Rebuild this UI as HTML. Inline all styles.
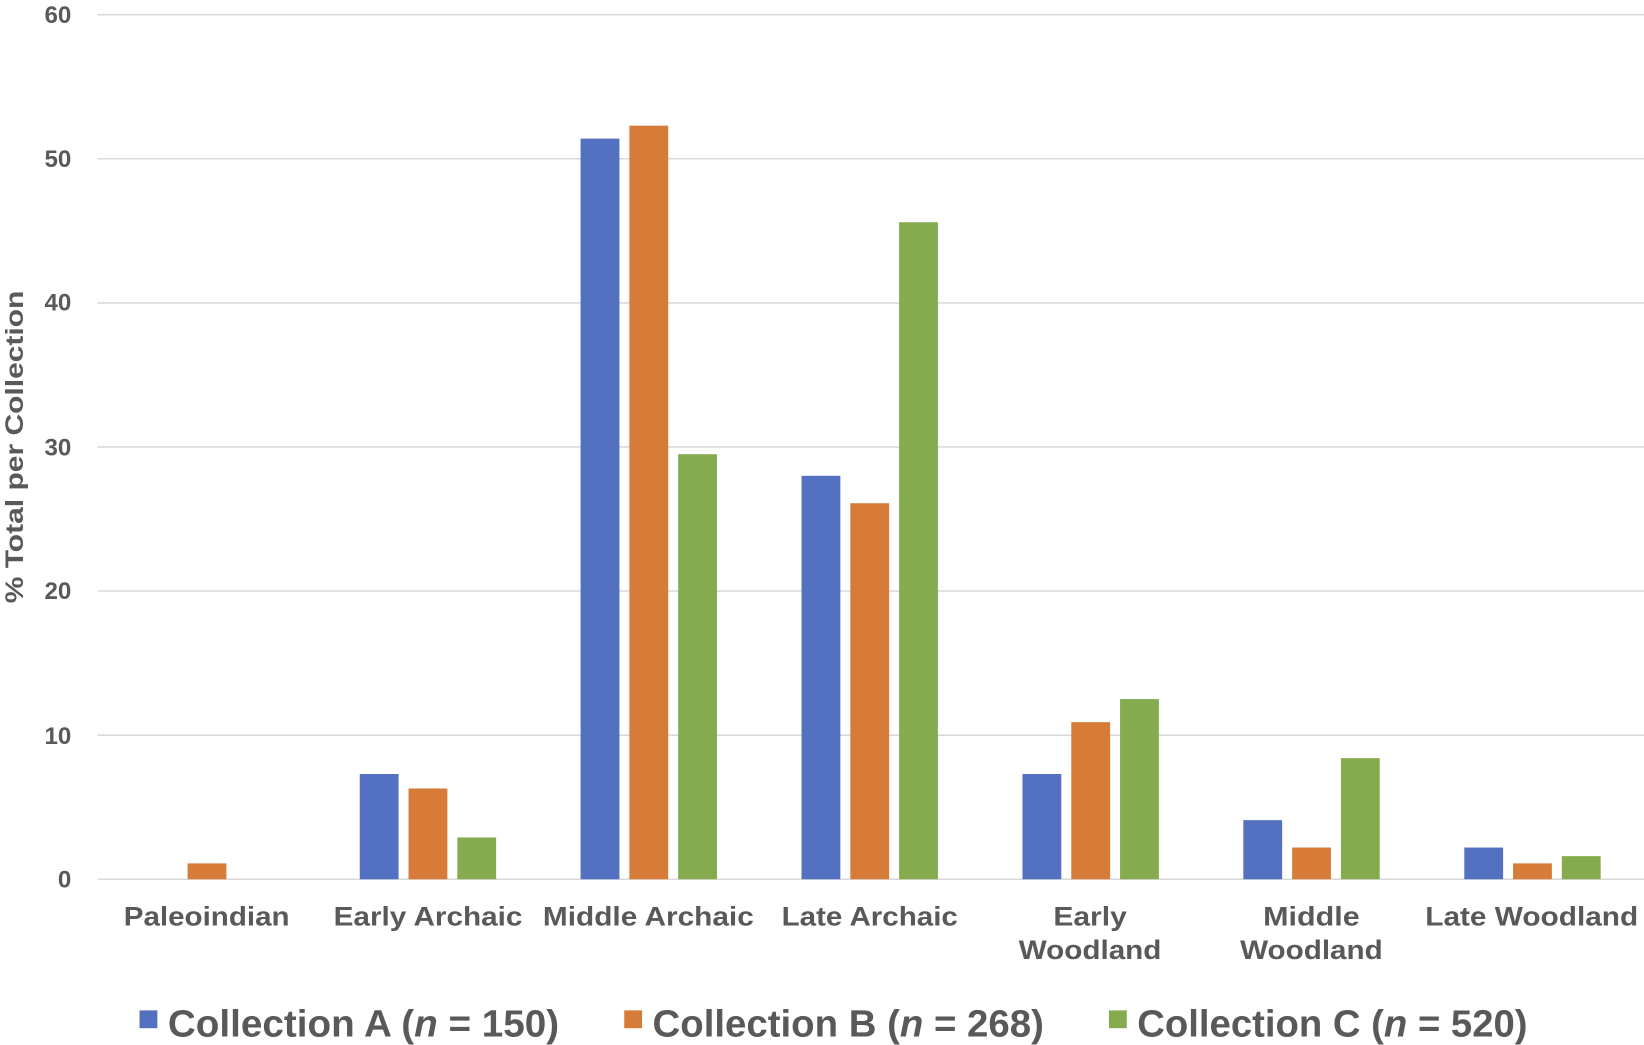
<!DOCTYPE html>
<html><head><style>html,body{margin:0;padding:0;background:#fff;}svg{display:block}</style></head>
<body>
<svg width="1644" height="1045" viewBox="0 0 1567 996" preserveAspectRatio="none" xmlns="http://www.w3.org/2000/svg" font-family="Liberation Sans, sans-serif" font-weight="bold" fill="#595959">
<g stroke="#d9d9d9" stroke-width="1.5">
<line x1="93" x2="1567" y1="14" y2="14"/><line x1="93" x2="1567" y1="151.3" y2="151.3"/><line x1="93" x2="1567" y1="288.7" y2="288.7"/><line x1="93" x2="1567" y1="426" y2="426"/><line x1="93" x2="1567" y1="563.3" y2="563.3"/><line x1="93" x2="1567" y1="700.7" y2="700.7"/><line x1="93" x2="1567" y1="838" y2="838"/>
</g>
<g font-size="23" text-anchor="end">
<text x="68" y="22">60</text><text x="68" y="159">50</text><text x="68" y="296">40</text><text x="68" y="434">30</text><text x="68" y="571">20</text><text x="68" y="709">10</text><text x="68" y="846">0</text>
</g>
<text transform="translate(22,426) rotate(-90)" font-size="24" text-anchor="middle" textLength="298" lengthAdjust="spacingAndGlyphs">% Total per Collection</text>
<g transform="translate(-1,0)">
<g fill="#5470c1">
<rect x="343.9" y="737.7" width="37" height="100.3"/>
<rect x="554.4" y="132.1" width="37" height="705.9"/>
<rect x="765" y="453.5" width="37" height="384.5"/>
<rect x="975.6" y="737.7" width="37" height="100.3"/>
<rect x="1186.1" y="781.7" width="37" height="56.3"/>
<rect x="1396.7" y="807.8" width="37" height="30.2"/>
</g>
<g fill="#d67b38">
<rect x="179.8" y="822.9" width="37" height="15.1"/>
<rect x="390.4" y="751.5" width="37" height="86.5"/>
<rect x="600.9" y="119.8" width="37" height="718.2"/>
<rect x="811.5" y="479.6" width="37" height="358.4"/>
<rect x="1022.1" y="688.3" width="37" height="149.7"/>
<rect x="1232.6" y="807.8" width="37" height="30.2"/>
<rect x="1443.2" y="822.9" width="37" height="15.1"/>
</g>
<g fill="#84ac4f">
<rect x="436.9" y="798.2" width="37" height="39.8"/>
<rect x="647.4" y="432.9" width="37" height="405.1"/>
<rect x="858" y="211.8" width="37" height="626.2"/>
<rect x="1068.6" y="666.3" width="37" height="171.7"/>
<rect x="1279.1" y="722.6" width="37" height="115.4"/>
<rect x="1489.7" y="816" width="37" height="22"/>
</g>
</g>
<g font-size="26" text-anchor="middle" lengthAdjust="spacingAndGlyphs">
<text x="197" y="882" textLength="158" lengthAdjust="spacingAndGlyphs">Paleoindian</text>
<text x="408" y="882" textLength="180" lengthAdjust="spacingAndGlyphs">Early Archaic</text>
<text x="618" y="882" textLength="201" lengthAdjust="spacingAndGlyphs">Middle Archaic</text>
<text x="829" y="882" textLength="168" lengthAdjust="spacingAndGlyphs">Late Archaic</text>
<text x="1039" y="882" textLength="70" lengthAdjust="spacingAndGlyphs">Early</text><text x="1039" y="914" textLength="136" lengthAdjust="spacingAndGlyphs">Woodland</text>
<text x="1250" y="882" textLength="92" lengthAdjust="spacingAndGlyphs">Middle</text><text x="1250" y="914" textLength="136" lengthAdjust="spacingAndGlyphs">Woodland</text>
<text x="1460" y="882" textLength="203" lengthAdjust="spacingAndGlyphs">Late Woodland</text>
</g>
<g font-size="36">
<rect x="133" y="963" width="17" height="17" fill="#5470c1"/>
<text x="160" y="988" textLength="373" lengthAdjust="spacingAndGlyphs">Collection A (<tspan font-style="italic">n</tspan> = 150)</text>
<rect x="595" y="963" width="17" height="17" fill="#d67b38"/>
<text x="622" y="988" textLength="373" lengthAdjust="spacingAndGlyphs">Collection B (<tspan font-style="italic">n</tspan> = 268)</text>
<rect x="1057" y="963" width="17" height="17" fill="#84ac4f"/>
<text x="1084" y="988" textLength="372" lengthAdjust="spacingAndGlyphs">Collection C (<tspan font-style="italic">n</tspan> = 520)</text>
</g>
</svg>
</body></html>
